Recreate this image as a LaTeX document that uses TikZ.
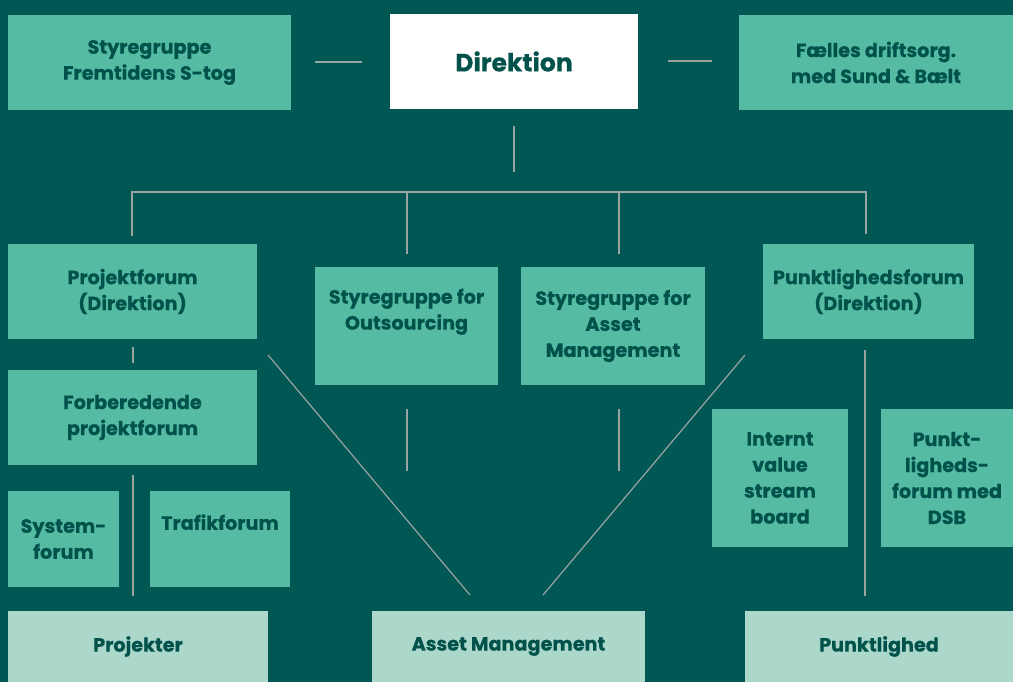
\documentclass[tikz,border=0pt]{standalone}
\usepackage{fontspec}
\setmainfont{Poppins}[BoldFeatures={FakeBold=0.5}]
\definecolor{bg}{HTML}{005753}
\definecolor{mid}{HTML}{55BBA3}
\definecolor{light}{HTML}{ABD8CB}
\definecolor{ink}{HTML}{00524A}
\definecolor{conn}{HTML}{9AA5A3}
\begin{document}
\begin{tikzpicture}[x=1pt,y=-1pt,
  box/.style={fill=mid,inner sep=0pt,align=center,text=ink,
    font=\fontsize{19.2}{26}\selectfont\bfseries},
  lbox/.style={box,fill=light},
  conn/.style={draw=conn,line width=1.2pt}]
\fill[bg] (0,0) rectangle (1013,682);
\useasboundingbox (0,0) rectangle (1013,682);
% top row
\node[box,minimum width=283,minimum height=95] (sty) at (149.5,62.5) {Styregruppe\\Fremtidens S-tog};
\node[box,fill=white,minimum width=248,minimum height=95,font=\fontsize{25}{30}\selectfont\bfseries] (dir) at (514,61.5) {Direktion};
\node[box,minimum width=274,minimum height=95] (fael) at (876,62.5) {Fælles driftsorg.\\med Sund \& Bælt};
% second row
\node[box,minimum width=249,minimum height=95] (pf) at (132.5,291.5) {Projektforum\\(Direktion)};
\node[box,minimum width=183,minimum height=118] (out) at (406.5,326) {Styregruppe for\\Outsourcing\\\strut};
\node[box,minimum width=184,minimum height=118] (sam) at (613,326) {Styregruppe for\\Asset\\Management};
\node[box,minimum width=211,minimum height=95] (punkt) at (868.5,291.5) {Punktlighedsforum\\(Direktion)};
% left column
\node[box,minimum width=249,minimum height=95] (fpf) at (132.5,417.5) {Forberedende\\projektforum};
\node[box,minimum width=111,minimum height=96] (sys) at (63.5,539) {System-\\forum};
\node[box,minimum width=140,minimum height=96] (traf) at (220,539) {Trafikforum\\\strut};
% right column
\node[box,minimum width=136,minimum height=138] (ivsb) at (780,478) {Internt\\value\\stream\\board};
\node[box,minimum width=132,minimum height=138] (pdsb) at (947,478) {Punkt-\\ligheds-\\forum med\\DSB};
% bottom row
\node[lbox,minimum width=260,minimum height=71] (proj) at (138,646.5) {Projekter};
\node[lbox,minimum width=273,minimum height=71] (am) at (508.5,646.5) {Asset Management};
\node[lbox,minimum width=268,minimum height=71] (pl) at (879,646.5) {Punktlighed};
% coordinates
\coordinate (d1) at (514,126);
\coordinate (d2) at (514,172);
\coordinate (b1) at (132,192);
\coordinate (b2) at (407,192);
\coordinate (b3) at (619,192);
\coordinate (b4) at (866,192);
\coordinate (pfTop) at (132,236);
\coordinate (outTop) at (407,254);
\coordinate (samTop) at (619,254);
\coordinate (punktTop) at (866,234);
\coordinate (pf1) at (133,347);
\coordinate (pf2) at (133,363);
\coordinate (fp1) at (133,475);
\coordinate (fp2) at (133,596);
\coordinate (o1) at (407,409);
\coordinate (o2) at (407,471);
\coordinate (s1) at (619,409);
\coordinate (s2) at (619,471);
\coordinate (dl1) at (268,355);
\coordinate (dl2) at (470,595);
\coordinate (dr1) at (745,355);
\coordinate (dr2) at (543,595);
\coordinate (p1) at (865,350);
\coordinate (p2) at (865,596);
% connectors
\draw[conn,shorten <=24pt,shorten >=28pt] (sty.east |- 0,62) -- (dir.west |- 0,62);
\draw[conn,shorten <=30pt,shorten >=27pt] (dir.east |- 0,61) -- (fael.west |- 0,61);
\draw[conn] (d1) -- (d2);
\draw[conn] (pfTop) -- (b1) -- (b4) -- (punktTop);
\draw[conn] (b2) -- (outTop);
\draw[conn] (b3) -- (samTop);
\draw[conn] (pf1) -- (pf2);
\draw[conn] (fp1) -- (fp2);
\draw[conn] (o1) -- (o2);
\draw[conn] (s1) -- (s2);
\draw[conn] (dl1) -- (dl2);
\draw[conn] (dr1) -- (dr2);
\draw[conn] (p1) -- (p2);
\end{tikzpicture}
\end{document}
